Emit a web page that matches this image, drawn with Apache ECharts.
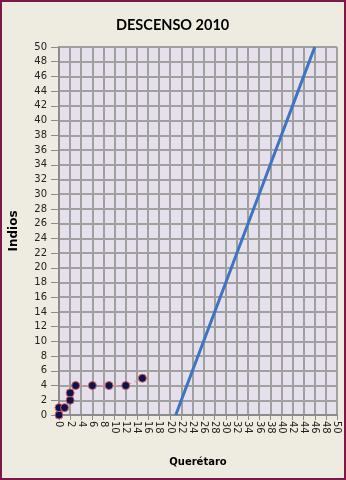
<!DOCTYPE html>
<html><head><meta charset="utf-8">
<script src="https://cdn.jsdelivr.net/npm/echarts@6/dist/echarts.min.js"></script>
<style>html,body{margin:0;padding:0;background:#EEECE1}#c{width:346px;height:480px}</style>
</head><body><div id="c"></div>
<script>
const title = 'DESCENSO 2010';
const xName = 'Querétaro';
const yName = 'Indios';
const dotX = [0, 0, 1, 2, 2, 3, 6, 9, 12, 15];
const dotY = [0, 1, 1, 2, 3, 4, 4, 4, 4, 5];
const lineX = [21, 24, 28, 32, 36, 38, 42, 46];
const lineY = [0, 6, 14, 22, 30, 34, 42, 50];

const chart = echarts.init(document.getElementById('c'));
const font = 'DejaVu Sans';
chart.setOption({
  backgroundColor: '#EEECE1',
  animation: false,
  title: {text: title, left: 111, top: 13, textStyle: {fontFamily: 'Lato', fontWeight: 'bold', fontSize: 14.5, color: '#000'}},
  grid: {left: 57, top: 47, width: 280, height: 368, show: true, backgroundColor: '#E6E0EC', borderWidth: 0},
  xAxis: {
    type: 'value', min: 0, max: 50, interval: 2,
    name: xName, nameLocation: 'middle', nameGap: 42,
    nameTextStyle: {fontFamily: font, fontWeight: 'bold', fontSize: 10, color: '#000'},
    axisLine: {show: true, lineStyle: {color: '#8C8C8C', width: 2}},
    axisTick: {show: true, length: 5, lineStyle: {color: '#8C8C8C', width: 1}},
    splitLine: {show: true, lineStyle: {color: '#A0A0A0', width: 2}},
    axisLabel: {rotate: -90, fontFamily: font, fontSize: 10, color: '#222', margin: 6}
  },
  yAxis: {
    type: 'value', min: 0, max: 50, interval: 2,
    name: yName, nameLocation: 'middle', nameGap: 39,
    nameTextStyle: {fontFamily: font, fontWeight: 'bold', fontSize: 12, color: '#000'},
    axisLine: {show: true, lineStyle: {color: '#8C8C8C', width: 2}},
    axisTick: {show: true, length: 8, lineStyle: {color: '#8C8C8C', width: 1}},
    splitLine: {show: true, lineStyle: {color: '#A0A0A0', width: 2}},
    axisLabel: {fontFamily: font, fontSize: 10, color: '#222', margin: 12}
  },
  series: [
    {type: 'line', data: dotX.map((x, i) => [x, dotY[i]]),
     symbol: 'circle', symbolSize: 8,
     itemStyle: {color: '#0A1450', borderColor: '#D86060', borderWidth: 1},
     lineStyle: {color: '#E89098', width: 1, type: [4, 3]}},
    {type: 'line', data: lineX.map((x, i) => [x, lineY[i]]),
     symbol: 'none', lineStyle: {color: '#3D75C0', width: 3}}
  ],
  graphic: [{type: 'rect', shape: {x: 1, y: 1, width: 344, height: 478}, style: {fill: 'none', stroke: '#7A1A48', lineWidth: 2}, z: 100}]
});
</script></body></html>
